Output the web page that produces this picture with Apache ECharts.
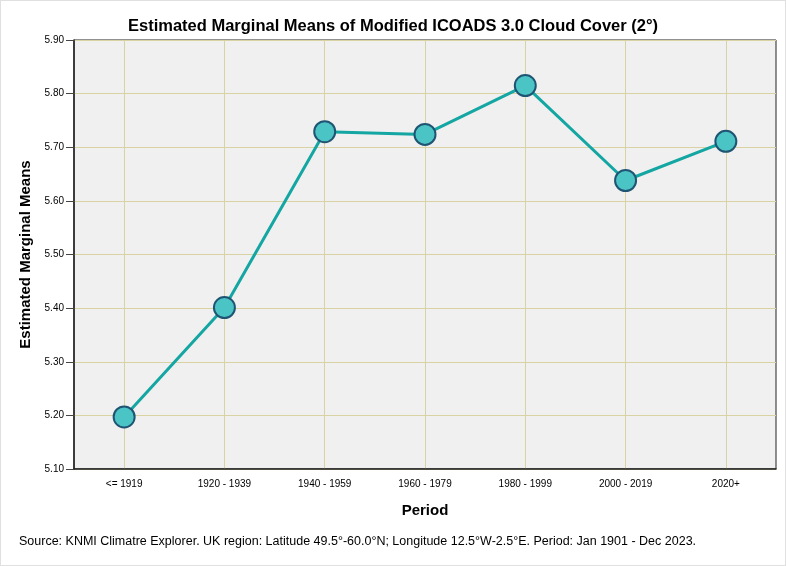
<!DOCTYPE html>
<html><head><meta charset="utf-8">
<script src="https://cdn.jsdelivr.net/npm/echarts@6/dist/echarts.min.js"></script>
<style>html,body{margin:0;padding:0;background:#fff}#c{width:786px;height:566px;box-sizing:border-box;border:1px solid #e0e0e0}</style>
</head><body><div id="c"></div>
<script>
const categories = ['<= 1919','1920 - 1939','1940 - 1959','1960 - 1979','1980 - 1999','2000 - 2019','2020+'];
const values = [5.197, 5.401, 5.729, 5.724, 5.815, 5.638, 5.711];
const yTicks = [5.10, 5.90, 0.10];
const chart = echarts.init(document.getElementById('c'));
const font = '"Liberation Sans", Arial, sans-serif';
chart.setOption({
  animation: false,
  textStyle: {fontFamily: font},
  title: {text: 'Estimated Marginal Means of Modified ICOADS 3.0 Cloud Cover (2°)', left: 'center', top: 12,
    textStyle: {fontSize: 16.5, fontWeight: 'bold', color: '#000', fontFamily: font}},
  graphic: [{type: 'text', left: 18, top: 534, style: {text: 'Source: KNMI Climatre Explorer. UK region: Latitude 49.5°-60.0°N; Longitude 12.5°W-2.5°E. Period: Jan 1901 - Dec 2023.', fontSize: 12.5, fill: '#000', fontFamily: font}}],
  grid: {left: 73, right: 9, top: 39, bottom: 96, show: true, backgroundColor: '#f0f0f0', borderColor: '#222', borderWidth: 1},
  xAxis: {type: 'category', data: categories, boundaryGap: true,
    name: 'Period', nameLocation: 'middle', nameGap: 34,
    nameTextStyle: {fontSize: 15, fontWeight: 'bold', color: '#000'},
    axisLine: {lineStyle: {color: '#222', width: 1.5}},
    axisTick: {alignWithLabel: true, length: 8, lineStyle: {color: '#444'}},
    axisLabel: {fontSize: 10, color: '#000', margin: 10},
    splitLine: {show: true, alignWithLabel: true, lineStyle: {color: '#d9d2a2', width: 1}}},
  yAxis: {type: 'value', min: yTicks[0], max: yTicks[1], interval: yTicks[2],
    name: 'Estimated Marginal Means', nameLocation: 'middle', nameGap: 35,
    nameTextStyle: {fontSize: 15, fontWeight: 'bold', color: '#000'},
    axisLine: {show: true, lineStyle: {color: '#222', width: 1.5}},
    axisTick: {show: true, length: 8, lineStyle: {color: '#444'}},
    axisLabel: {fontSize: 10, color: '#000', margin: 10, formatter: v => v.toFixed(2)},
    splitLine: {show: true, lineStyle: {color: '#d9d2a2', width: 1}}},
  series: [{type: 'line', data: values, symbol: 'circle', symbolSize: 21,
    lineStyle: {color: '#14a6a2', width: 3},
    itemStyle: {color: '#4bc4c6', borderColor: '#1f5573', borderWidth: 2}}]
});
</script></body></html>
